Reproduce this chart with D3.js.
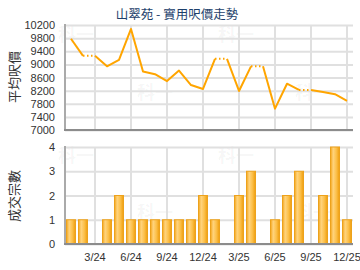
<!DOCTYPE html>
<meta charset="utf-8">
<style>
body { margin: 0; background: #fff; }
svg { display: block; }
.tick text { font: 11px "Liberation Sans", Arial, sans-serif; fill: #333; }
.grid .tick line { stroke: #e0e0e0; stroke-width: 2; }
.grid .domain { display: none; }
.cjk { font-family: "Noto Sans CJK TC", "Noto Sans CJK SC", sans-serif; }
.mark { font: bold 18px "Noto Sans CJK TC", sans-serif; fill: #000; fill-opacity: 0.045; }
</style>
<svg width="360" height="270"></svg>
<script src="https://d3js.org/d3.v7.min.js"></script>
<script>

// months Jan 2024 .. Dec 2025
var months = ["1/24","2/24","3/24","4/24","5/24","6/24","7/24","8/24","9/24","10/24","11/24","12/24",
              "1/25","2/25","3/25","4/25","5/25","6/25","7/25","8/25","9/25","10/25","11/25","12/25"];
var tickMonths = ["3/24","6/24","9/24","12/24","3/25","6/25","9/25","12/25"];

// average price per sq ft (null = no deal that month)
var prices = [9780, 9260, null, 8940, 9140, 10080, 8780, 8700, 8490, 8810, 8370, 8250,
              9170, null, 8190, 8940, null, 7650, 8410, 8220, null, 8160, 8090, 7890];
// number of deals
var counts = [1, 1, 0, 1, 2, 1, 1, 1, 1, 1, 1, 2,
              1, 0, 2, 3, 0, 1, 2, 3, 0, 2, 4, 1];

var priceTicks = d3.range(7000, 10201, 400);
var countTicks = [0, 1, 2, 3, 4];

var svg = d3.select("svg");

var left = 65, right = 353;
var top1 = 25, bot1 = 130;
var top2 = 147, bot2 = 244;

var x = d3.scaleBand().domain(months).range([left, right])
    .paddingInner(0.25).paddingOuter(0.125);
var y1 = d3.scaleLinear().domain([7000, 10200]).range([bot1, top1]);
var y2 = d3.scaleLinear().domain([0, 4]).range([bot2, top2]);

var cx = function(m) { return x(m) + x.bandwidth() / 2; };
var fmt = d3.format("d");

// bar gradient
var grad = svg.append("defs").append("linearGradient")
    .attr("id", "bar").attr("x1", "0%").attr("x2", "100%");
grad.append("stop").attr("offset", "0%").attr("stop-color", "#f3a51a");
grad.append("stop").attr("offset", "30%").attr("stop-color", "#ffd47e");
grad.append("stop").attr("offset", "65%").attr("stop-color", "#fcc04a");
grad.append("stop").attr("offset", "100%").attr("stop-color", "#ee9d0c");

// watermarks
[[76, 41], [155, 99], [236, 41], [313, 99], [76, 162], [155, 219], [236, 162], [313, 219]].forEach(function(p) {
  svg.append("text").attr("class", "mark cjk").attr("x", p[0]).attr("y", p[1])
    .attr("text-anchor", "middle").text("科一");
});

// ---------- top chart ----------
svg.append("g").attr("class", "grid")
    .attr("transform", "translate(" + left + ",0)")
    .call(d3.axisLeft(y1).tickValues(priceTicks).tickFormat(fmt).tickSize(-(right - left)).tickPadding(10));

svg.append("g").attr("class", "grid")
    .attr("transform", "translate(0," + bot1 + ")")
    .call(d3.axisBottom(x).tickValues(tickMonths).tickSize(-(bot1 - top1)).tickFormat(""));

svg.append("line").attr("x1", left).attr("x2", left).attr("y1", top1 - 1).attr("y2", bot1 + 1)
    .attr("stroke", "#aaa").attr("stroke-width", 2);
svg.append("line").attr("x1", left - 1).attr("x2", right).attr("y1", bot1).attr("y2", bot1)
    .attr("stroke", "#8c8c8c").attr("stroke-width", 2);

// fill gaps with previous value, dotted where carried
var filled = [];
prices.forEach(function(v, i) { filled.push(v == null ? filled[i - 1] : v); });

var line = d3.line().x(function(d) { return cx(d.m); }).y(function(d) { return y1(d.v); });

var runs = [], run = null;
for (var i = 1; i < months.length; i++) {
  var a = {m: months[i - 1], v: filled[i - 1]}, b = {m: months[i], v: filled[i]};
  if (prices[i] == null) {
    svg.append("path").attr("d", line([a, b])).attr("fill", "none")
      .attr("stroke", "#ffa500").attr("stroke-width", 2).attr("stroke-dasharray", "1.5,2.5");
    run = null;
  } else {
    if (!run) { run = [a]; runs.push(run); }
    run.push(b);
  }
}
svg.selectAll(".price").data(runs).enter().append("path")
    .attr("class", "price")
    .attr("d", line)
    .attr("fill", "none")
    .attr("stroke", "#ffa500")
    .attr("stroke-width", 2)
    .attr("stroke-linejoin", "round");

// ---------- bottom chart ----------
svg.append("g").attr("class", "grid")
    .attr("transform", "translate(" + left + ",0)")
    .call(d3.axisLeft(y2).tickValues(countTicks).tickFormat(fmt).tickSize(-(right - left)).tickPadding(10));

svg.append("g").attr("class", "grid")
    .attr("transform", "translate(0," + bot2 + ")")
    .call(d3.axisBottom(x).tickValues(tickMonths).tickSize(-(bot2 - top2)).tickPadding(9));

var data = months.map(function(m, i) { return {m: m, c: counts[i]}; });
svg.selectAll(".bar").data(data.filter(function(d) { return d.c > 0; })).enter().append("rect")
    .attr("class", "bar")
    .attr("x", function(d) { return x(d.m); })
    .attr("y", function(d) { return y2(d.c); })
    .attr("width", x.bandwidth())
    .attr("height", function(d) { return y2(0) - y2(d.c); })
    .attr("fill", "url(#bar)")
    .attr("stroke", "#eda21c")
    .attr("stroke-width", 1);

svg.append("line").attr("x1", left).attr("x2", left).attr("y1", top2 - 1).attr("y2", bot2 + 1)
    .attr("stroke", "#aaa").attr("stroke-width", 2);
svg.append("line").attr("x1", left - 1).attr("x2", right).attr("y1", bot2).attr("y2", bot2)
    .attr("stroke", "#8c8c8c").attr("stroke-width", 2);

// ---------- texts ----------
svg.append("text").attr("class", "cjk")
    .attr("x", 177).attr("y", 19)
    .attr("text-anchor", "middle")
    .attr("font-size", "12.5px")
    .attr("fill", "#1d3f6b")
    .text("山翠苑 - 實用呎價走勢");

svg.append("text").attr("class", "cjk")
    .attr("transform", "translate(19,77) rotate(-90)")
    .attr("text-anchor", "middle")
    .attr("font-size", "13px")
    .attr("fill", "#333")
    .text("平均呎價");

svg.append("text").attr("class", "cjk")
    .attr("transform", "translate(19,196) rotate(-90)")
    .attr("text-anchor", "middle")
    .attr("font-size", "13px")
    .attr("fill", "#333")
    .text("成交宗數");

</script>
